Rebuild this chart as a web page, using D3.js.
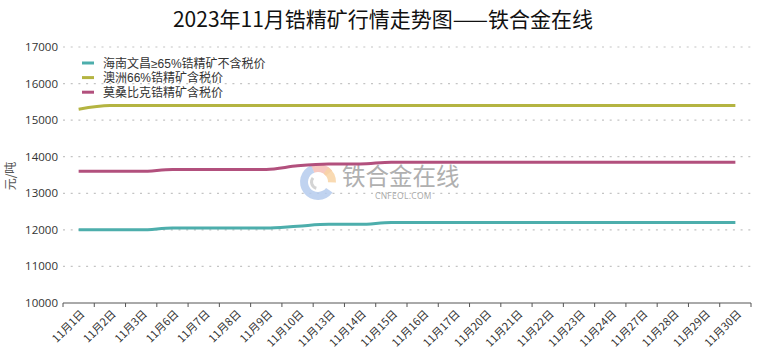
<!DOCTYPE html>
<html><head><meta charset="utf-8">
<script src="https://cdn.jsdelivr.net/npm/d3@7"></script>
<style>
body{margin:0;background:#fff;}
svg{display:block;font-family:"Noto Sans CJK SC","Noto Sans",sans-serif;}
</style></head>
<body>
<svg id="c" width="760" height="359"></svg>
<script>
const categories = ["11月1日","11月2日","11月3日","11月6日","11月7日","11月8日","11月9日","11月10日","11月13日","11月14日","11月15日","11月16日","11月17日","11月20日","11月21日","11月22日","11月23日","11月24日","11月27日","11月28日","11月29日","11月30日"];
const hainan = [12000,12000,12000,12050,12050,12050,12050,12100,12150,12150,12200,12200,12200,12200,12200,12200,12200,12200,12200,12200,12200,12200];
const aozhou = [15300,15400,15400,15400,15400,15400,15400,15400,15400,15400,15400,15400,15400,15400,15400,15400,15400,15400,15400,15400,15400,15400];
const mosang = [13600,13600,13600,13650,13650,13650,13650,13750,13800,13800,13850,13850,13850,13850,13850,13850,13850,13850,13850,13850,13850,13850];
const yTicks = [10000,11000,12000,13000,14000,15000,16000,17000];
const seriesNames = ["海南文昌≥65%锆精矿不含税价","澳洲66%锆精矿含税价","莫桑比克锆精矿含税价"];
const seriesColors = ["#4daeac","#b4b441","#b2507d"];
const seriesData = [hainan, aozhou, mosang];

const svg = d3.select("#c");
const L = 63, R = 751, T = 47, B = 303;
const x = d3.scaleBand().domain(categories).range([L, R]).padding(0);
const y = d3.scaleLinear().domain([10000, 17000]).range([B, T]);

// title
svg.append("text").attr("x", 383).attr("y", 27).attr("text-anchor", "middle")
  .attr("font-size", 21).attr("fill", "#111").text("2023年11月锆精矿行情走势图——铁合金在线");

// gridlines
svg.append("g").selectAll("line").data(yTicks.filter(d => d > 10000)).join("line")
  .attr("x1", L).attr("x2", R).attr("y1", d => y(d)).attr("y2", d => y(d))
  .attr("stroke", "#c4c4c4").attr("stroke-width", 1.2).attr("stroke-dasharray", "2,5.7");

// y labels
svg.append("g").selectAll("text").data(yTicks).join("text")
  .attr("x", 58).attr("y", d => y(d) + 4).attr("text-anchor", "end")
  .attr("font-size", 11.5).attr("fill", "#333").attr("font-family", "'Open Sans','Noto Sans',sans-serif")
  .text(d => d);

svg.append("text").attr("transform", "translate(15,176) rotate(-90)").attr("text-anchor", "middle")
  .attr("font-size", 12).attr("fill", "#555").text("元/吨");

// watermark
const wm = svg.append("g").attr("transform", "translate(318,182)");
const arc = d3.arc();
wm.append("path").attr("d", arc({innerRadius: 10, outerRadius: 18, startAngle: -0.4, endAngle: 0.9})).attr("fill", "#f6bfb6").attr("opacity", 0.85);
wm.append("path").attr("d", arc({innerRadius: 10, outerRadius: 18, startAngle: 0.6, endAngle: 1.6})).attr("fill", "#f8d3a4").attr("opacity", 0.85);
wm.append("path").attr("d", arc({innerRadius: 10, outerRadius: 18, startAngle: 2.2, endAngle: 5.9})).attr("fill", "#b5cbed").attr("opacity", 0.85);
wm.append("path").attr("d", arc({innerRadius: 5, outerRadius: 8, startAngle: 3.4, endAngle: 5.4})).attr("fill", "#c9c9c9").attr("opacity", 0.8);
svg.append("text").attr("x", 342).attr("y", 185).attr("font-size", 23.5).attr("fill", "#b0b0b0")
  .attr("font-family", "'Liberation Sans','Noto Sans CJK SC',sans-serif").text("铁合金在线");
svg.append("text").attr("x", 375).attr("y", 199).attr("font-size", 8.5).attr("fill", "#a8a8a8")
  .attr("font-family", "'Open Sans',sans-serif").attr("letter-spacing", 0.3).text("CNFEOL.COM");

// lines
const line = d3.line().x((d, i) => x(categories[i]) + x.bandwidth() / 2).y(d => y(d)).curve(d3.curveMonotoneX);
seriesData.forEach((s, k) => {
  svg.append("path").attr("d", line(s)).attr("fill", "none")
    .attr("stroke", seriesColors[k]).attr("stroke-width", 3).attr("stroke-linecap", "butt");
});

// x axis
svg.append("line").attr("x1", L).attr("x2", R).attr("y1", B).attr("y2", B).attr("stroke", "#555").attr("stroke-width", 1);
const bounds = categories.map(c => x(c)).concat([R]);
svg.append("g").selectAll("line").data(bounds).join("line")
  .attr("x1", d => d).attr("x2", d => d).attr("y1", B).attr("y2", B + 4).attr("stroke", "#555");
svg.append("g").selectAll("text").data(categories).join("text")
  .attr("transform", d => `translate(${x(d) + x.bandwidth() / 2 + 4},${B + 9}) rotate(-45)`)
  .attr("text-anchor", "end").attr("dy", "0.35em").attr("font-size", 11).attr("fill", "#333").text(d => d);

// legend
seriesNames.forEach((n, k) => {
  const yy = 63 + k * 14.6;
  svg.append("line").attr("x1", 82).attr("x2", 94).attr("y1", yy).attr("y2", yy)
    .attr("stroke", seriesColors[k]).attr("stroke-width", 3);
  svg.append("text").attr("x", 103).attr("y", yy + 4.5).attr("font-size", 12).attr("fill", "#333")
    .attr("font-family", "'Liberation Sans','Noto Sans CJK SC',sans-serif").text(n);
});
</script>
</body></html>
